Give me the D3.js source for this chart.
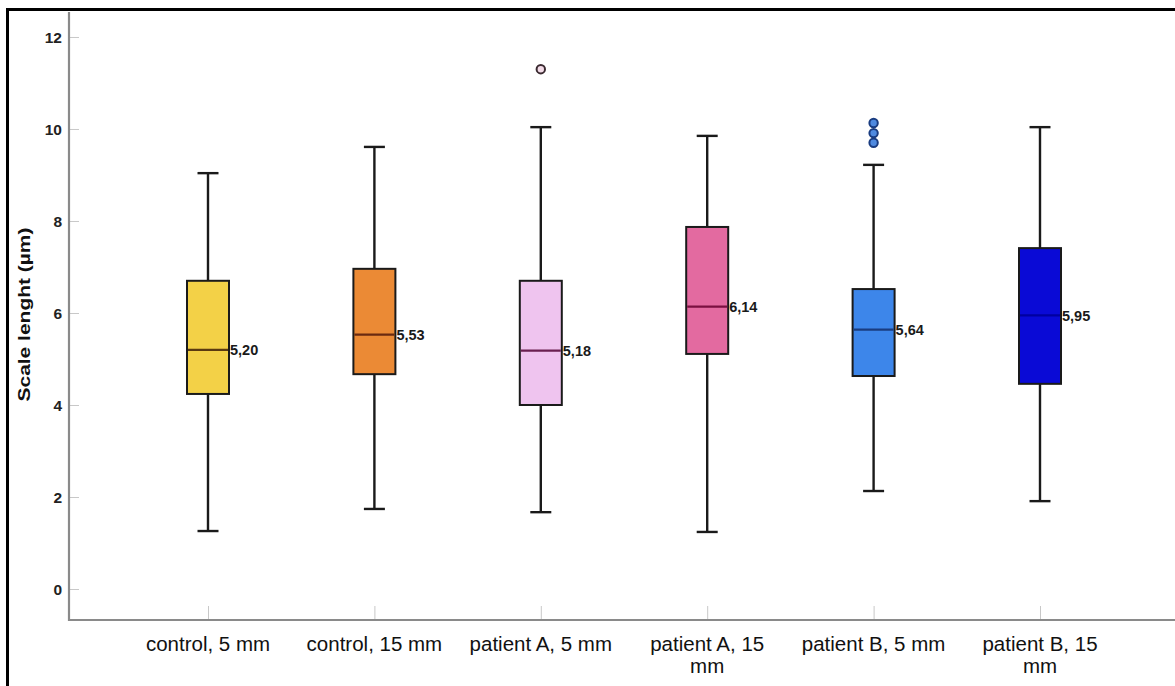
<!DOCTYPE html>
<html>
<head>
<meta charset="utf-8">
<script src="https://cdn.jsdelivr.net/npm/d3@7"></script>
<style>
  html, body { margin: 0; padding: 0; background: #fff; }
  svg { display: block; }
</style>
</head>
<body>
<svg id="chart" width="1175" height="686"></svg>
<script>
// ---- Data ----
const categories = ["control, 5 mm", "control, 15 mm", "patient A, 5 mm", "patient A, 15 mm", "patient B, 5 mm", "patient B, 15 mm"];
const whiskerLow  = [1.26, 1.74, 1.67, 1.24, 2.13, 1.91];
const q1          = [4.24, 4.67, 4.00, 5.11, 4.63, 4.46];
const medians     = [5.20, 5.53, 5.18, 6.14, 5.64, 5.95];
const q3          = [6.70, 6.96, 6.70, 7.87, 6.52, 7.41];
const whiskerHigh = [9.04, 9.61, 10.04, 9.85, 9.22, 10.04];
const medianLabels = ["5,20", "5,53", "5,18", "6,14", "5,64", "5,95"];
const outliers = [[], [], [11.30], [], [9.70, 9.91, 10.13], []];
const yTicks = [0, 2, 4, 6, 8, 10, 12];
const yTitle = "Scale lenght (µm)";

// ---- Styles ----
const fills   = ["#f3d147", "#eb8a35", "#efc4ef", "#e36aa0", "#3d86ea", "#0a0ad6"];
const medCols = ["#5a3a10", "#6a2a10", "#6a2050", "#7a1040", "#1a3c80", "#0000a0"];
const outFill = ["#fff", "#fff", "#f3dce8", "#fff", "#4f8ae0", "#fff"];
const outStroke = ["#333", "#333", "#3a2a30", "#333", "#1a3c80", "#333"];

const svg = d3.select("#chart");

const y = d3.scaleLinear().domain([-0.674, 12.543]).range([620, 12]);
const x = d3.scalePoint().domain(categories).range([208, 1040]);

// frame
svg.append("line").attr("x1", 7.5).attr("x2", 7.5).attr("y1", 8).attr("y2", 686)
  .attr("stroke", "#000").attr("stroke-width", 3);
svg.append("line").attr("x1", 6).attr("x2", 1175).attr("y1", 9.5).attr("y2", 9.5)
  .attr("stroke", "#000").attr("stroke-width", 3);

// Y axis
const yAxis = d3.axisRight(y).tickValues(yTicks).tickSize(10).tickFormat("");
const gy = svg.append("g").attr("transform", "translate(69,0)").call(yAxis);
gy.select(".domain").remove();
gy.selectAll(".tick line").attr("stroke", "#c8c8c8").attr("stroke-width", 1);
svg.append("line").attr("x1", 69).attr("x2", 69).attr("y1", 12).attr("y2", 621)
  .attr("stroke", "#8a8a8a").attr("stroke-width", 2.2);
svg.append("g").selectAll("text").data(yTicks).join("text")
  .attr("x", 62).attr("y", d => y(d)).attr("dy", "0.36em")
  .attr("text-anchor", "end")
  .attr("font-family", "Liberation Sans, Arial, sans-serif")
  .attr("font-weight", "bold").attr("font-size", 15.5).attr("fill", "#222")
  .text(d => d);

// Y title
svg.append("text")
  .attr("transform", "translate(29.5,314.5) rotate(-90)")
  .attr("text-anchor", "middle")
  .attr("font-family", "Liberation Sans, Arial, sans-serif")
  .attr("font-weight", "bold").attr("font-size", 17).attr("fill", "#111")
  .attr("textLength", 174).attr("lengthAdjust", "spacingAndGlyphs")
  .text(yTitle);

// X axis
const xAxis = d3.axisTop(x).tickSize(14).tickFormat("");
const gx = svg.append("g").attr("transform", "translate(0,620)").call(xAxis);
gx.select(".domain").remove();
gx.selectAll(".tick line").attr("stroke", "#c8c8c8").attr("stroke-width", 1);
svg.append("line").attr("x1", 68).attr("x2", 1175).attr("y1", 620).attr("y2", 620)
  .attr("stroke", "#8a8a8a").attr("stroke-width", 2.2);

// X labels (wrap "15 mm" labels like the source)
const xLabelLines = categories.map(c => {
  if (c.startsWith("patient") && c.endsWith("15 mm")) return [c.replace(" mm", ""), "mm"];
  return [c];
});
const xl = svg.append("g").selectAll("text").data(categories).join("text")
  .attr("x", d => x(d)).attr("y", 651)
  .attr("text-anchor", "middle")
  .attr("font-family", "Liberation Sans, Arial, sans-serif")
  .attr("font-size", 20.5).attr("fill", "#111");
xl.each(function(d, i) {
  const t = d3.select(this);
  xLabelLines[i].forEach((ln, j) => {
    t.append("tspan").attr("x", x(d)).attr("dy", j === 0 ? 0 : 22).text(ln);
  });
});

// Boxes
const boxW = 42, capW = 21;
const g = svg.append("g").selectAll("g").data(categories).join("g");

g.append("line")
  .attr("x1", d => x(d)).attr("x2", d => x(d))
  .attr("y1", (d, i) => y(whiskerLow[i])).attr("y2", (d, i) => y(whiskerHigh[i]))
  .attr("stroke", "#1a1a1a").attr("stroke-width", 2.4);
g.append("line")
  .attr("x1", d => x(d) - capW / 2).attr("x2", d => x(d) + capW / 2)
  .attr("y1", (d, i) => y(whiskerLow[i])).attr("y2", (d, i) => y(whiskerLow[i]))
  .attr("stroke", "#1a1a1a").attr("stroke-width", 2.4);
g.append("line")
  .attr("x1", d => x(d) - capW / 2).attr("x2", d => x(d) + capW / 2)
  .attr("y1", (d, i) => y(whiskerHigh[i])).attr("y2", (d, i) => y(whiskerHigh[i]))
  .attr("stroke", "#1a1a1a").attr("stroke-width", 2.4);
g.append("rect")
  .attr("x", d => x(d) - boxW / 2).attr("width", boxW)
  .attr("y", (d, i) => y(q3[i])).attr("height", (d, i) => y(q1[i]) - y(q3[i]))
  .attr("fill", (d, i) => fills[i]).attr("stroke", "#1a1a1a").attr("stroke-width", 2);
g.append("line")
  .attr("x1", d => x(d) - boxW / 2 + 1).attr("x2", d => x(d) + boxW / 2 - 1)
  .attr("y1", (d, i) => y(medians[i])).attr("y2", (d, i) => y(medians[i]))
  .attr("stroke", (d, i) => medCols[i]).attr("stroke-width", 2.2);
g.append("text")
  .attr("x", d => x(d) + boxW / 2 + 1).attr("y", (d, i) => y(medians[i]))
  .attr("dy", "0.36em")
  .attr("font-family", "Liberation Sans, Arial, sans-serif")
  .attr("font-weight", "bold").attr("font-size", 14.5).attr("fill", "#1a1a1a")
  .text((d, i) => medianLabels[i]);

// Outliers
g.each(function(d, i) {
  d3.select(this).selectAll("circle").data(outliers[i]).join("circle")
    .attr("cx", x(d)).attr("cy", v => y(v)).attr("r", 4.2)
    .attr("fill", outFill[i]).attr("stroke", outStroke[i]).attr("stroke-width", 2);
});
</script>
</body>
</html>
